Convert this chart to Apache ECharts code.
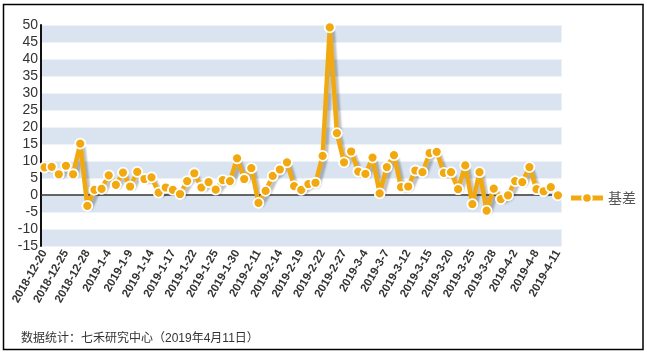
<!DOCTYPE html>
<html>
<head>
<meta charset="utf-8">
<script src="https://cdn.jsdelivr.net/npm/echarts@6/dist/echarts.min.js"></script>
<style>html,body{margin:0;padding:0;background:#fff}#c{width:647px;height:355px}</style>
</head>
<body>
<div id="c"></div>
<script>
var dates = ['2018-12-20','2018-12-21','2018-12-24','2018-12-25','2018-12-26','2018-12-27','2018-12-28',
'2019-1-2','2019-1-3','2019-1-4','2019-1-7','2019-1-8','2019-1-9','2019-1-10','2019-1-11','2019-1-14','2019-1-15','2019-1-16','2019-1-17','2019-1-18','2019-1-21','2019-1-22','2019-1-23','2019-1-24','2019-1-25','2019-1-28','2019-1-29','2019-1-30','2019-1-31',
'2019-2-1','2019-2-11','2019-2-12','2019-2-13','2019-2-14','2019-2-15','2019-2-18','2019-2-19','2019-2-20','2019-2-21','2019-2-22','2019-2-25','2019-2-26','2019-2-27','2019-2-28',
'2019-3-1','2019-3-4','2019-3-5','2019-3-6','2019-3-7','2019-3-8','2019-3-11','2019-3-12','2019-3-13','2019-3-14','2019-3-15','2019-3-18','2019-3-19','2019-3-20','2019-3-21','2019-3-22','2019-3-25','2019-3-26','2019-3-27','2019-3-28','2019-3-29',
'2019-4-1','2019-4-2','2019-4-3','2019-4-4','2019-4-8','2019-4-9','2019-4-10','2019-4-11'];
var basis = [8.1, 8.3, 6.1, 8.6, 6.1, 15.1, -3.2, 1.5, 1.8, 5.8, 3.0, 6.6, 2.5, 6.8, 4.7, 5.2, 0.7, 2.2, 1.5, 0.3,
4.1, 6.4, 2.2, 3.8, 1.6, 4.4, 4.1, 10.8, 4.7, 7.9, -2.3, 1.2, 5.6, 7.5, 9.6, 2.6, 1.5, 3.2, 3.6, 11.5,
49.3, 18.2, 9.6, 12.8, 6.9, 6.2, 11.0, 0.5, 8.2, 11.7, 2.3, 2.5, 7.2, 6.7, 12.3, 12.7, 6.5, 6.7, 1.7, 8.7,
-2.7, 6.7, -4.6, 1.9, -1.2, -0.1, 4.1, 3.8, 8.2, 1.7, 1.1, 2.3, -0.1];
var seriesName = '基差';
var footnote = '数据统计：七禾研究中心（2019年4月11日）';

var chart = echarts.init(document.getElementById('c'));
chart.setOption({
  animation: false,
  textStyle: {fontFamily: 'Liberation Sans, Arial, sans-serif'},
  title: {
    text: footnote, left: 16, top: 328,
    textStyle: {fontSize: 12, fontWeight: 'normal', color: '#333', fontFamily: 'Liberation Sans, Noto Sans CJK SC, sans-serif'}
  },
  legend: {
    data: [seriesName], right: 6, top: 186, itemWidth: 32, itemHeight: 12, itemGap: 6,
    lineStyle: {width: 5, shadowBlur: 0, shadowOffsetX: 0, shadowOffsetY: 0},
    textStyle: {fontSize: 14, color: '#555', fontFamily: 'Noto Sans CJK SC, sans-serif'}
  },
  grid: {left: 41, right: 85.5, top: 25, bottom: 109, containLabel: false},
  xAxis: {
    type: 'category', data: dates, boundaryGap: true,
    axisLine: {show: false}, axisTick: {show: false},
    axisLabel: {interval: 2, rotate: 60, fontSize: 11.5, color: '#333', margin: 5, fontWeight: 'bold'}
  },
  yAxis: {
    type: 'value', min: -15, max: 50, interval: 5,
    axisLine: {show: true, lineStyle: {color: '#111', width: 2}},
    axisTick: {show: false},
    axisLabel: {fontSize: 14, color: '#333', margin: 3},
    splitLine: {show: true, lineStyle: {color: '#eef3f8', width: 1}},
    splitArea: {show: true, areaStyle: {color: ['#d9e4f0', '#ffffff']}}
  },
  graphic: [{
    type: 'rect', shape: {x: 3.5, y: 4.5, width: 639.5, height: 345}, z: 100,
    style: {fill: 'none', stroke: '#000', lineWidth: 1.5}, silent: true
  }],
  series: [{
    name: seriesName, type: 'line', data: basis,
    symbol: 'circle', symbolSize: 10, showAllSymbol: true,
    lineStyle: {color: '#f2a90f', width: 4.5, shadowColor: 'rgba(0,0,0,0.25)', shadowOffsetX: 3, shadowOffsetY: 3, shadowBlur: 2},
    itemStyle: {color: '#f2a90f', borderColor: '#fff', borderWidth: 1.8},
    markLine: {
      silent: true, symbol: 'none', label: {show: false}, z: 1,
      lineStyle: {color: '#333', width: 1.5, type: 'solid'},
      data: [{yAxis: 0}]
    }
  }]
});
</script>
</body>
</html>
